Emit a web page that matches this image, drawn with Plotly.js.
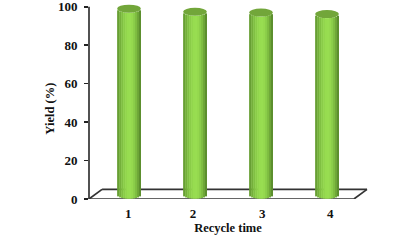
<!DOCTYPE html>
<html><head><meta charset="utf-8">
<script src="https://cdn.plot.ly/plotly-3.0.1.min.js"></script>
<style>html,body{margin:0;padding:0;background:#fff}#c{width:418px;height:248px}</style>
</head><body><div id="c"></div>
<script>
var categories = ['1', '2', '3', '4'];
var barCenters = [1, 2, 3, 4];
var labelPositions = [0.99, 1.97, 3.02, 4.05];
var yieldValues = [99.0, 97.4, 97.0, 96.2];
var floorBase = 2.2;
var stripeColors = ['#679f33','#74b03a','#80c042','#8acd48','#92d64d','#97dc50','#98dd51','#95d94f','#8ccf4a','#7fbe42','#6fa839','#5c8f2e'];

var barWidth = 0.36, capH = 2.1;
var n = stripeColors.length, sw = barWidth / n;
var traces = stripeColors.map(function (col, i) {
  var t = (i + 0.5) / n * 2 - 1;
  var sag = capH * Math.sqrt(1 - t * t);
  var bases = yieldValues.map(function () { return floorBase - sag; });
  return {
    type: 'bar', x: barCenters,
    y: yieldValues.map(function (v, k) { return v - sag - bases[k]; }),
    base: bases, width: sw * 1.05, offset: -barWidth / 2 + i * sw,
    marker: { color: col, line: { width: 0 } }, hoverinfo: 'skip', showlegend: false
  };
});

var shapes = barCenters.map(function (c, k) {
  return { type: 'circle', xref: 'x', yref: 'y', x0: c - barWidth / 2, x1: c + barWidth / 2,
    y0: yieldValues[k] - capH, y1: yieldValues[k] + capH, layer: 'above',
    fillcolor: '#72a63a', line: { width: 0 } };
});
var frameLine = { color: '#333333', width: 1.7 };
[[0, 0, 0.953, 0], [0.047, 5, 1, 5], [0, 0, 0.047, 5], [0.953, 0, 1, 5], [0, 0, 0, 100]].forEach(function (s) {
  shapes.push({ type: 'line', xref: 'paper', yref: 'y', x0: s[0], y0: s[1], x1: s[2], y1: s[3], line: frameLine, layer: 'below' });
});

var tickFont = { family: 'Liberation Serif', size: 13, weight: 700, color: '#111111' };
var titleFont = { family: 'Liberation Serif', size: 12.5, color: '#111111' };
var layout = {
  width: 418, height: 248, paper_bgcolor: '#fff', plot_bgcolor: 'rgba(0,0,0,0)',
  margin: { l: 89, r: 51, t: 1.2, b: 48.5, pad: 0 }, barmode: 'overlay', showlegend: false, shapes: shapes,
  font: { family: 'Liberation Serif' },
  xaxis: { range: [0.394, 4.606], tickmode: 'array', tickvals: labelPositions, ticktext: categories,
    ticks: '', showline: false, showgrid: false, zeroline: false, ticklabelstandoff: 5, tickfont: tickFont,
    title: { text: '<b>Recycle time</b>', font: titleFont, standoff: 3 } },
  yaxis: { range: [0, 103], tickvals: [0, 20, 40, 60, 80, 100], ticks: 'outside', ticklen: 4, tickwidth: 1.5, tickcolor: '#222',
    showline: false, showgrid: false, zeroline: false, ticklabelstandoff: 4, ticklabeloverflow: 'allow', tickfont: tickFont },
  annotations: [{ text: '<b>Yield (%)</b>', font: titleFont, textangle: -90, showarrow: false,
    xref: 'paper', x: 0, xanchor: 'center', xshift: -39, yref: 'y', y: 47, yanchor: 'middle' }]
};
Plotly.newPlot('c', traces, layout, { displayModeBar: false, staticPlot: true });
</script></body></html>
